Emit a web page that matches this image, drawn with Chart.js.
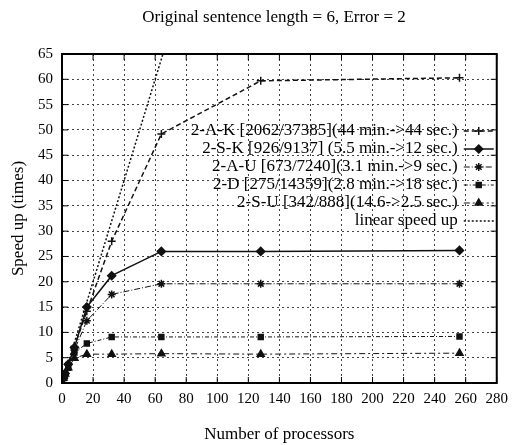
<!DOCTYPE html>
<html>
<head>
<meta charset="utf-8">
<script src="https://cdn.jsdelivr.net/npm/chart.js@4"></script>
<style>
    html, body { margin: 0; padding: 0; background: #fff; }
</style>
</head>
<body>
<canvas id="graficaSpeedup" width="515" height="445"></canvas>
<script>
// datos: speed up vs numero de procesadores
const procesadores = [1, 2, 4, 8, 16, 32, 64, 128, 256];
const etiquetas = [
    '2-A-K [2062/37385](44 min.->44 sec.)',
    '2-S-K [926/9137] (5.5 min.->12 sec.)',
    '2-A-U [673/7240](3.1 min.->9 sec.)',
    '2-D [275/14359](2.8 min.->18 sec.)',
    '2-S-U [342/888](14.6->2.5 sec.)',
    'linear speed up'
];
const speedAK = [1, 1.9, 3.8, 7.2, 14.2, 28, 49.2, 59.7, 60.3];
const speedSK = [1, 1.9, 3.7, 7.0, 15, 21.2, 26, 26, 26.2];
const speedAU = [1, 1.9, 3.6, 6.5, 12.3, 17.5, 19.6, 19.6, 19.6];
const speedD  = [1, 1.8, 3.0, 6.0, 7.8, 9.1, 9.1, 9.1, 9.2];
const speedSU = [1, 1.8, 3.0, 4.9, 5.7, 5.7, 5.8, 5.7, 5.9];
const speedLineal = [1, 2, 4, 8, 16, 32, 64, 128, 256];
const ticksX = [0, 280, 20];
const ticksY = [0, 65, 5];
const titulo = 'Original sentence length = 6, Error = 2';

const fuente = "'Liberation Serif', 'DejaVu Serif', serif";
const negro = '#111';

// estilos de cada serie (estilo gnuplot)
const estilos = [
    { dash: [5, 3],        ancho: 1.5, punto: 'cross',    radio: 4 },
    { dash: [],            ancho: 1.5, punto: 'rectRot',  radio: 4 },
    { dash: [6, 2, 1, 2],  ancho: 1,   punto: 'star',     radio: 4 },
    { dash: [4, 2, 1, 2],  ancho: 1,   punto: 'rect',     radio: 3.5 },
    { dash: [6, 3, 2, 3],  ancho: 1,   punto: 'triangle', radio: 4 },
    { dash: [2, 2],        ancho: 1.5, punto: false,      radio: 0 }
];

const series = [speedAK, speedSK, speedAU, speedD, speedSU, speedLineal];

function generarDatasets() {
    return series.map((valores, i) => ({
        label: etiquetas[i],
        data: procesadores.map((p, j) => ({ x: p, y: valores[j] })),
        borderColor: negro,
        backgroundColor: negro,
        borderWidth: estilos[i].ancho,
        borderDash: estilos[i].dash,
        pointStyle: estilos[i].punto,
        pointRadius: estilos[i].radio,
        pointBorderWidth: 1.5,
        pointBackgroundColor: negro,
        pointBorderColor: negro,
        tension: 0
    }));
}

// titulo centrado un poco a la derecha, como en la figura
const tituloPlugin = {
    id: 'tituloPlugin',
    afterDraw(chart) {
        const { ctx } = chart;
        ctx.save();
        ctx.font = '17px ' + fuente;
        ctx.fillStyle = '#000';
        ctx.textAlign = 'center';
        ctx.textBaseline = 'middle';
        ctx.fillText(titulo, 274, 18);
        ctx.restore();
    }
};

// marco y marcas hacia adentro en los cuatro lados
const marcasInternas = {
    id: 'marcasInternas',
    afterDatasetsDraw(chart) {
        const { ctx, chartArea: a, scales: { x, y } } = chart;
        ctx.save();
        ctx.strokeStyle = '#000';
        ctx.setLineDash([]);
        ctx.lineWidth = 1;
        ctx.beginPath();
        x.ticks.forEach(t => {
            const px = x.getPixelForValue(t.value);
            ctx.moveTo(px, a.bottom); ctx.lineTo(px, a.bottom - 6);
            ctx.moveTo(px, a.top); ctx.lineTo(px, a.top + 6);
        });
        y.ticks.forEach(t => {
            const py = y.getPixelForValue(t.value);
            ctx.moveTo(a.left, py); ctx.lineTo(a.left + 6, py);
            ctx.moveTo(a.right, py); ctx.lineTo(a.right - 6, py);
        });
        ctx.stroke();
        ctx.lineWidth = 2;
        ctx.strokeRect(a.left, a.top, a.right - a.left, a.bottom - a.top);
        ctx.restore();
    }
};

// leyenda dentro del area, alineada a la derecha
const leyendaInterna = {
    id: 'leyendaInterna',
    afterDatasetsDraw(chart) {
        const { ctx, chartArea: a } = chart;
        const xTexto = a.right - 39;
        const x0 = a.right - 33, x1 = a.right - 3;
        let yFila = a.top + 77;
        ctx.save();
        ctx.font = '17px ' + fuente;
        ctx.textAlign = 'right';
        ctx.textBaseline = 'middle';
        chart.data.datasets.forEach((ds, i) => {
            ctx.fillStyle = '#000';
            ctx.fillText(ds.label, xTexto, yFila);
            ctx.strokeStyle = negro;
            ctx.lineWidth = ds.borderWidth;
            ctx.setLineDash(ds.borderDash);
            ctx.beginPath();
            ctx.moveTo(x0, yFila); ctx.lineTo(x1, yFila);
            ctx.stroke();
            ctx.setLineDash([]);
            if (ds.pointStyle) {
                ctx.fillStyle = negro;
                ctx.lineWidth = 1.5;
                Chart.helpers.drawPoint(ctx, {
                    pointStyle: ds.pointStyle, radius: ds.pointRadius,
                    rotation: 0, borderWidth: 1.5
                }, (x0 + x1) / 2, yFila);
            }
            yFila += 18;
        });
        ctx.restore();
    }
};

document.addEventListener('DOMContentLoaded', () => {
    new Chart(document.getElementById('graficaSpeedup'), {
        type: 'line',
        data: { datasets: generarDatasets() },
        plugins: [marcasInternas, leyendaInterna, tituloPlugin],
        options: {
            responsive: false,
            animation: false,
            layout: { padding: { left: 8, right: 14, top: 54, bottom: 0 } },
            plugins: {
                legend: { display: false },
                tooltip: { enabled: false },
                title: { display: false }
            },
            scales: {
                x: {
                    type: 'linear',
                    min: ticksX[0], max: ticksX[1],
                    afterFit: s => { s.height = 62; },
                    ticks: {
                        stepSize: ticksX[2], color: '#000', padding: 7,
                        maxRotation: 0,
                        font: { family: fuente, size: 15 }
                    },
                    grid: { color: '#444', lineWidth: 1, drawTicks: false },
                    border: { display: false, dash: [2, 3] },
                    title: {
                        display: true, text: 'Number of processors', color: '#000',
                        font: { family: fuente, size: 17 }, padding: 0
                    }
                },
                y: {
                    min: ticksY[0], max: ticksY[1],
                    afterFit: s => { s.width = 54; },
                    ticks: {
                        stepSize: ticksY[2], color: '#000', padding: 9,
                        font: { family: fuente, size: 15 }
                    },
                    grid: { color: '#444', lineWidth: 1, drawTicks: false },
                    border: { display: false, dash: [2, 3] },
                    title: {
                        display: true, text: 'Speed up (times)', color: '#000',
                        font: { family: fuente, size: 17 }, padding: 0
                    }
                }
            }
        }
    });
});
</script>
</body>
</html>
